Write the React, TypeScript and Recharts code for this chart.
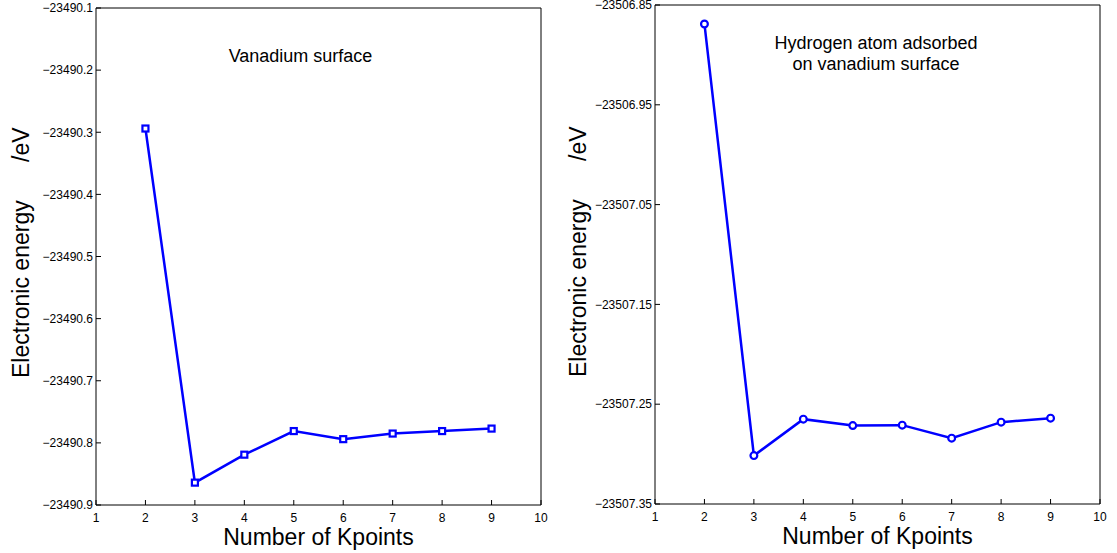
import React from 'react';
import { LineChart, Line, XAxis, YAxis, ReferenceDot, Label } from 'recharts';

// ─── data ─────────────────────────────────────────────────────────────────────
const kpoints = [2, 3, 4, 5, 6, 7, 8, 9];
const vanadiumEnergy = [-23490.294, -23490.864, -23490.819, -23490.781, -23490.794, -23490.785, -23490.781, -23490.777];
const hydrogenEnergy = [-23506.869, -23507.3015, -23507.265, -23507.2714, -23507.271, -23507.284, -23507.268, -23507.264];
const xTicks = [1, 2, 3, 4, 5, 6, 7, 8, 9, 10];
const vanadiumTicks = [-23490.9, -23490.8, -23490.7, -23490.6, -23490.5, -23490.4, -23490.3, -23490.2, -23490.1];
const hydrogenTicks = [-23507.35, -23507.25, -23507.15, -23507.05, -23506.95, -23506.85];
const vanadiumNote = ['Vanadium surface'];
const hydrogenNote = ['Hydrogen atom adsorbed', 'on vanadium surface'];

const FONT = '"Liberation Sans", Arial, Helvetica, sans-serif';
const BLUE = '#0000ff';

const squareDot = (p: any) => (
  <rect key={`s${p.index}`} x={p.cx - 3} y={p.cy - 3} width={6} height={6} fill="#fff" stroke={BLUE} strokeWidth={2.2} />
);
const circleDot = (p: any) => (
  <circle key={`c${p.index}`} cx={p.cx} cy={p.cy} r={3.4} fill="#fff" stroke={BLUE} strokeWidth={2.2} />
);

interface PanelProps {
  values: number[];
  yTicks: number[];
  decimals: number;
  dot: (p: any) => React.ReactElement;
  note: string[];
  noteX: number;
  noteY: number;
  width: number;
  yAxisWidth: number;
  top: number;
  right: number;
  xAxisHeight: number;
}

function Panel({ values, yTicks, decimals, dot, note, noteX, noteY, width, yAxisWidth, top, right, xAxisHeight }: PanelProps) {
  const data = kpoints.map((k, i) => ({ k, e: values[i] }));
  const domain = [yTicks[0], yTicks[yTicks.length - 1]];
  const axisStyle = { stroke: '#000', strokeWidth: 1 };
  return (
    <LineChart width={width} height={553} data={data} margin={{ top, right, bottom: 0, left: 0 }}>
      <XAxis
        dataKey="k" type="number" domain={[1, 10]} ticks={xTicks} interval={0}
        height={xAxisHeight} tickSize={-5} tickMargin={13}
        axisLine={axisStyle} tickLine={axisStyle}
        tick={{ fontSize: 12, fill: '#000', fontFamily: FONT }}
      >
        <Label
          content={(p: any) => (
            <text x={p.viewBox.x + p.viewBox.width / 2} y={p.viewBox.y + 40} textAnchor="middle"
              fontSize={23} fontFamily={FONT} fill="#000">Number of Kpoints</text>
          )}
        />
      </XAxis>
      <XAxis
        xAxisId="top" orientation="top" dataKey="k" type="number" domain={[1, 10]} ticks={xTicks}
        interval={0} height={1} tickSize={-5} tick={false} axisLine={axisStyle} tickLine={axisStyle}
      />
      <YAxis
        type="number" domain={domain} ticks={yTicks} interval={0} width={yAxisWidth}
        tickSize={-5} tickMargin={8} axisLine={axisStyle} tickLine={axisStyle}
        tick={{ fontSize: 12, fill: '#000', fontFamily: FONT }}
        tickFormatter={(v: number) => '\u2212' + Math.abs(v).toFixed(decimals)}
      >
        <Label
          content={(p: any) => {
            const x = p.viewBox.x + 28.5;
            const y = p.viewBox.y + p.viewBox.height - 127;
            return (
              <text x={x} y={y} transform={`rotate(-90 ${x} ${y})`} fontSize={23} fontFamily={FONT}
                fill="#000" style={{ whiteSpace: 'pre' }}>{'Electronic energy      /eV'}</text>
            );
          }}
        />
      </YAxis>
      <YAxis
        yAxisId="right" orientation="right" type="number" domain={domain} ticks={yTicks} interval={0}
        width={1} tickSize={-5} tick={false} axisLine={axisStyle} tickLine={axisStyle}
      />
      <ReferenceDot x={noteX} y={noteY} r={0} stroke="none" fill="none">
        <Label
          content={(p: any) => {
            const cx = p.viewBox.x + p.viewBox.width / 2;
            const cy = p.viewBox.y + p.viewBox.height / 2;
            const lh = 20.5;
            const y0 = cy - ((note.length - 1) * lh) / 2 + 6.5;
            return (
              <text textAnchor="middle" fontSize={18} fontFamily={FONT} fill="#000">
                {note.map((t, i) => (
                  <tspan key={i} x={cx} y={y0 + i * lh}>{t}</tspan>
                ))}
              </text>
            );
          }}
        />
      </ReferenceDot>
      <Line type="linear" dataKey="e" stroke={BLUE} strokeWidth={2.5} dot={dot} isAnimationActive={false} />
    </LineChart>
  );
}

export default function App() {
  return (
    <div style={{ position: 'absolute', left: 0, top: 0, width: 1117, height: 553, background: '#fff' }}>
      <div style={{ position: 'absolute', left: 0, top: 0 }}>
        <Panel values={vanadiumEnergy} yTicks={vanadiumTicks} decimals={1} dot={squareDot}
          note={vanadiumNote} noteX={5.136} noteY={-23490.177}
          width={557} yAxisWidth={96} top={7} right={15} xAxisHeight={48} />
      </div>
      <div style={{ position: 'absolute', left: 557, top: 0 }}>
        <Panel values={hydrogenEnergy} yTicks={hydrogenTicks} decimals={2} dot={circleDot}
          note={hydrogenNote} noteX={5.47} noteY={-23506.898}
          width={560} yAxisWidth={98} top={4} right={16} xAxisHeight={49} />
      </div>
    </div>
  );
}
